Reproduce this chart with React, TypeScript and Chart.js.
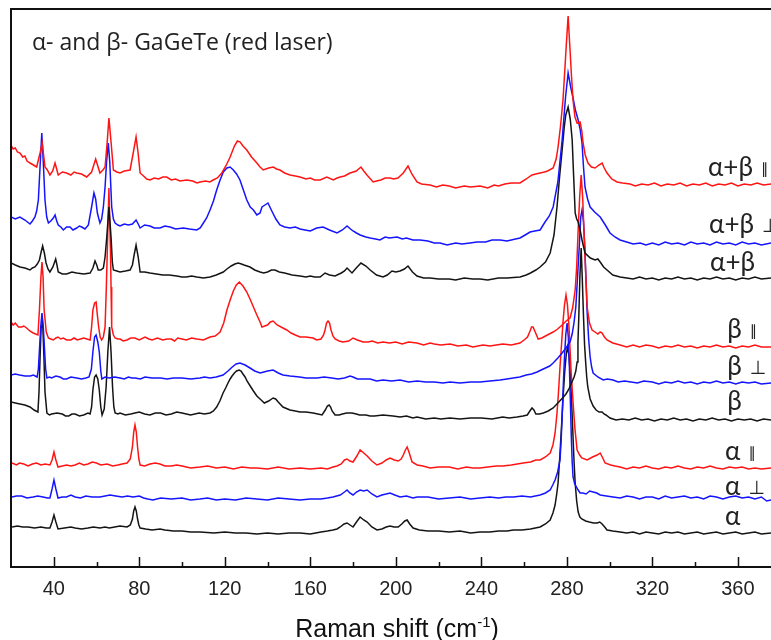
import React, { useEffect, useRef } from "react";
import { Chart, registerables } from "chart.js";
Chart.register(...registerables);

// ---------- data (Raman shift in cm^-1, intensity in arbitrary stacked units) ----------
const xTickValues = [40, 80, 120, 160, 200, 240, 280, 320, 360];
const xMinorTickValues = [60, 100, 140, 180, 220, 260, 300, 340];

const seriesLabels = ["α+β", "α+β", "α+β", "β", "β", "β", "α", "α", "α"];
const seriesSymbols = ["∥", "⊥", "", "∥", "⊥", "", "∥", "⊥", ""];
const seriesColors = ["#ff1414", "#1414ff", "#141414", "#ff1414", "#1414ff", "#141414", "#ff1414", "#1414ff", "#141414"];

const abPar: [number, number][] = [
  [20, 422], [21, 418], [22, 419], [23, 415], [24.2, 414], [25.5, 410], [26.5, 411], [27.5, 406], [28.9, 404],
  [30.5, 402], [32, 400], [33.6, 414], [34.6, 424], [35.9, 400], [37, 397], [38.2, 392], [39.5, 396],
  [40.6, 404], [42.1, 392], [44, 395], [46, 394], [48, 392], [49.5, 395], [50.7, 394], [53, 393], [55.4, 390],
  [57.7, 395], [59.6, 408], [61.6, 394], [63, 397], [64, 400], [65, 425], [65.8, 449], [66.8, 425],
  [67.9, 397], [69.5, 395], [71, 394], [73, 396], [75.7, 397], [77.5, 418], [78.5, 430], [79.4, 415],
  [80.4, 394], [82, 391], [83.5, 388], [85, 387], [87, 389], [89, 388], [91, 390], [92.8, 390], [95, 387],
  [97, 388], [99, 386], [102.2, 387], [105, 386], [107, 384], [108.4, 385], [111, 386], [113, 385],
  [114.6, 387], [116.5, 389], [118.6, 394], [120.5, 401], [122.5, 410], [124.5, 421], [125.9, 426],
  [127.2, 425], [128.5, 421], [130.3, 417], [132.5, 410], [135, 404], [136.5, 400], [138, 397], [140.5, 399],
  [142.7, 400], [144.2, 398], [145.8, 397], [148, 394], [150.5, 392], [153, 391], [155.2, 390], [158, 388],
  [160, 389], [162, 387], [164.6, 387], [167.7, 390], [170.8, 387], [172.5, 389], [174, 390], [176, 391],
  [178.6, 394], [181.5, 396], [183.7, 400], [185, 396], [186.5, 392], [189.4, 385], [191, 386], [193, 387],
  [195, 389], [197.3, 389], [199, 388], [201, 389], [203.5, 394], [205.7, 401], [207.5, 393], [209.9, 385],
  [212, 383], [216, 382], [219, 380], [222, 382], [225, 381], [228, 379], [232, 381], [235, 380], [239.4, 381],
  [243, 379], [246, 382], [248, 381], [251, 383], [254, 384], [258.1, 384], [261, 388], [263.7, 392],
  [265.5, 393], [267.5, 394], [269.5, 395], [271, 396], [273.6, 399], [275, 408], [275.9, 420], [277, 440],
  [278.2, 467], [279, 495], [279.6, 517], [280.6, 551], [281.5, 517], [282.2, 490], [282.9, 467],
  [283.8, 450], [284.8, 444], [286.2, 445], [287, 436], [287.6, 424], [288.6, 412], [289.9, 404],
  [291.5, 400], [293.2, 399], [295, 402], [296.5, 404], [297.5, 399], [298.8, 394], [301, 388], [303.5, 385],
  [306, 384], [309.6, 383], [312, 381], [315, 383], [318, 382], [321, 384], [324, 381], [327, 383], [330, 382],
  [333, 384], [336, 381], [339, 383], [342, 382], [345, 384], [348, 381], [351, 383], [354, 382], [357, 384],
  [360, 381], [363, 383], [366, 382], [369, 384], [372, 382], [375.5, 383],
];

const abPerp: [number, number][] = [
  [20, 350], [22, 348], [24.2, 350], [26.5, 347], [28.9, 343], [30, 346], [31.2, 350], [32, 356], [32.8, 367],
  [33.7, 405], [34.4, 434], [35.1, 405], [35.9, 367], [36.7, 350], [37.5, 344], [38.6, 346], [39.8, 349],
  [40.6, 352], [41.4, 346], [42.1, 342], [43.3, 340], [44.5, 337], [46, 340], [47.6, 340], [49, 337],
  [50.7, 339], [52, 341], [53.1, 340], [54.6, 338], [56.2, 342], [57.7, 360], [58.8, 374], [59.6, 368],
  [60.4, 354], [61.6, 344], [62.4, 348], [63.2, 360], [64, 380], [64.7, 405], [65.5, 424], [66.2, 405],
  [67.1, 360], [67.9, 348], [68.7, 344], [70, 342], [71, 341], [73, 343], [74.9, 342], [76.8, 343],
  [78.5, 347], [79.5, 343], [80.4, 339], [82.5, 342], [85, 341], [87, 339], [89.7, 339], [92, 341],
  [94.4, 340], [97, 338], [100.6, 339], [103.5, 338], [106.9, 337], [108.5, 339], [110, 344], [111.5, 349],
  [113.1, 357], [114.7, 366], [116.2, 377], [117.8, 387], [119.3, 395], [121, 399], [122.5, 400], [124, 397],
  [125.5, 393], [127.1, 387], [128.7, 377], [130.3, 367], [131.9, 360], [133.4, 357], [135, 352], [136.5, 354],
  [137.4, 360], [138.8, 362], [140.2, 364], [142, 356], [143.9, 348], [145.8, 342], [148, 340], [150.5, 339],
  [153, 340], [155.2, 338], [157.5, 337], [160, 336], [163, 339], [166, 340], [169, 337], [172.5, 334],
  [175, 337], [177.2, 341], [178.8, 338], [180, 336], [181.6, 334], [183.3, 332], [186, 330], [188, 329],
  [190.5, 328], [192.6, 327], [195, 330], [197, 329], [200.6, 330], [203, 328], [205, 329], [208, 327],
  [211.3, 327], [215, 326], [218, 324], [220.7, 324], [224, 322], [228, 324], [231, 323], [234.7, 324],
  [238, 325], [242, 325], [245, 327], [248.8, 327], [252, 326], [254, 327], [256, 328], [258.1, 329],
  [260.5, 332], [262.8, 335], [265, 336], [267.5, 337], [269.8, 345], [271.8, 351], [273.6, 360],
  [275.8, 385], [277.8, 427], [279.4, 470], [280.6, 494], [281.8, 480], [282.9, 469], [284, 457],
  [285.3, 447], [286.2, 438], [287.1, 424], [287.8, 400], [288.5, 380], [289.7, 368], [290.9, 360],
  [293, 355], [295.6, 350], [298, 342], [300.2, 334], [302.5, 330], [304.9, 327], [308, 325], [311, 323],
  [314.3, 324], [317, 322], [320, 324], [323, 322], [326, 325], [329, 323], [332, 324], [335, 322], [338, 325],
  [341, 323], [344, 324], [347, 322], [350, 325], [353, 323], [356, 324], [359, 322], [362, 325], [365, 323],
  [368, 324], [371, 322], [375.5, 324],
];

const abUnpol: [number, number][] = [
  [20, 304], [22, 302], [24.2, 300], [26.5, 299], [28.9, 297], [30, 299], [31.2, 300], [32.3, 303],
  [33.3, 307], [34.1, 315], [34.8, 321], [35.6, 314], [36.4, 304], [37.3, 298], [38.2, 295], [39.6, 300],
  [40.9, 308], [41.5, 302], [42.1, 295], [44, 293], [46, 293], [48.5, 295], [50.7, 294], [54, 293], [57, 294],
  [58.3, 299], [59.3, 306], [60.1, 302], [60.8, 297], [62, 297], [63.2, 299], [64, 310], [64.8, 330],
  [65.8, 360], [66.8, 330], [67.4, 305], [67.9, 297], [69.5, 296], [71, 295], [73.5, 296], [75.7, 297],
  [76.8, 302], [77.6, 312], [78.5, 322], [79.5, 310], [80.4, 295], [82.5, 295], [85, 294], [88, 293],
  [91, 292], [94, 292], [97.5, 291], [100, 290], [102, 290], [104.5, 291], [106.9, 290], [110, 289],
  [113.1, 290], [116, 292], [119.3, 295], [121, 298], [123, 301], [124.7, 303], [126.3, 304], [127.8, 303],
  [129, 302], [131.8, 300], [134, 297], [136.5, 295], [138.2, 294], [140, 295], [141.8, 297], [143.5, 297],
  [145.5, 295], [148, 294], [151.5, 292], [155.2, 291], [158, 290], [160, 291], [162, 290], [164.6, 290],
  [166.9, 294], [169, 292], [171.6, 291], [174.5, 294], [176, 296], [177.2, 299], [179.5, 294], [181.5, 299],
  [183.7, 304], [186, 301], [188, 297], [191, 292], [194, 290], [196, 292], [198.2, 296], [200, 295],
  [202, 296], [204, 298], [205.7, 301], [207.8, 295], [209.9, 291], [213, 289], [216, 289], [220, 288],
  [225, 288], [228, 287], [232, 289], [236, 288], [239.4, 288], [243, 287], [248, 289], [252, 289],
  [258.1, 290], [261, 292], [263, 294], [265.5, 297], [267.5, 300], [270, 305], [272.2, 314], [274, 332],
  [275.4, 360], [276.6, 390], [277.8, 417], [278.8, 440], [279.5, 452], [280.6, 460], [281.6, 448],
  [282.5, 427], [283.2, 390], [283.9, 354], [284.6, 348], [285.3, 345], [286.2, 337], [287.1, 327],
  [288.5, 314], [291, 309], [293.2, 307], [294.5, 308], [295.6, 305], [297.2, 300], [298.8, 297],
  [301.5, 292], [304.9, 290], [308, 289], [311, 288], [314, 290], [317, 288], [320, 289], [323, 287],
  [326, 289], [329, 288], [332, 290], [335, 288], [338, 289], [341, 287], [344, 289], [347, 288], [350, 290],
  [353, 288], [356, 289], [359, 287], [362, 289], [365, 288], [368, 290], [371, 288], [375.5, 289],
];

const betaPar: [number, number][] = [
  [20, 245], [21, 242], [22, 244], [23.5, 240], [25, 240], [26, 241], [27.3, 239], [28.8, 236], [30.4, 234],
  [31.5, 233], [32.6, 232], [33.3, 257], [34, 290], [34.5, 305], [35, 290], [35.5, 257], [36.5, 235],
  [37.5, 229], [38.6, 228], [39.8, 227], [41, 229], [42, 230], [43.2, 228], [44.5, 229], [46, 227], [48, 227],
  [49.5, 229], [51, 227], [52.5, 228], [54, 229], [55.5, 228], [57, 227], [57.7, 240], [58.3, 257],
  [59.1, 264], [59.8, 265], [60.4, 252], [61, 240], [61.7, 230], [62.4, 227], [63.2, 230], [64, 240],
  [64.6, 280], [65.1, 320], [65.8, 379], [66.5, 320], [66.8, 280], [67.1, 240], [67.9, 232], [68.7, 229],
  [70, 228], [71, 228], [72.5, 226], [74.2, 227], [76, 229], [78, 229], [80, 227], [82.7, 230], [84.5, 228],
  [86, 227], [88.5, 229], [91, 227], [93, 228], [95, 228], [96.5, 226], [98, 229], [100, 228], [102, 227],
  [104.5, 229], [106.9, 228], [110, 227], [113.1, 230], [115.5, 231], [117.8, 235], [119.5, 244], [121, 257],
  [122.5, 267], [124, 276], [125.4, 282], [126.8, 285], [128.5, 281], [130.3, 275], [131.8, 268],
  [133.4, 260], [135, 252], [136.5, 245], [137.4, 240], [138.7, 241], [140, 242], [141.3, 245], [142.6, 246],
  [144.5, 242], [147.2, 239], [149, 237], [151, 234], [153, 232], [155.2, 230], [158, 230], [161.3, 229],
  [163, 227], [165, 228], [166.2, 232], [166.9, 237], [167.6, 244], [168.3, 246], [169, 244], [169.7, 237],
  [170.6, 231], [171.6, 228], [173.5, 226], [175.3, 225], [178, 226], [180, 229], [182, 227], [184.7, 225],
  [187, 225], [189, 226], [191.5, 224], [194, 225], [197, 224], [200, 225], [203, 223], [206, 225],
  [209.9, 224], [213, 222], [216, 224], [218, 223], [221, 222], [225.4, 223], [229, 221], [233, 222],
  [236, 220], [240.8, 222], [244, 221], [247, 222], [250, 223], [254, 222], [258.1, 224], [260, 227],
  [261.6, 230], [262.8, 236], [263.5, 240], [264.2, 240], [265.4, 234], [266.6, 228], [268.3, 229],
  [270, 231], [271.8, 233], [273.6, 235], [275.7, 238], [277.8, 242], [279.7, 246], [281.5, 249],
  [282.7, 259], [283.9, 277], [284.6, 300], [285.3, 337], [286, 370], [286.7, 392], [287.4, 370],
  [288, 337], [288.8, 295], [289.5, 260], [290.6, 244], [291.8, 237], [293.2, 235], [294.5, 233],
  [295.6, 235], [296.5, 234], [297.6, 230], [298.8, 227], [301.5, 224], [304.9, 222], [308, 220],
  [311, 222], [314, 220], [317, 222], [320, 221], [323, 219], [326, 221], [329, 220], [332, 222], [335, 220],
  [338, 221], [341, 219], [344, 221], [347, 220], [350, 222], [353, 220], [356, 221], [359, 219], [362, 221],
  [365, 220], [368, 222], [371, 220], [375.5, 220],
];

const betaPerp: [number, number][] = [
  [20, 192], [22, 193], [24, 192], [26.5, 191], [29, 191], [30.5, 192], [32.2, 190], [32.8, 198],
  [33.3, 217], [33.9, 240], [34.5, 254], [35.1, 240], [35.7, 217], [36.2, 198], [36.8, 189], [38, 190],
  [39, 189], [41, 191], [42.9, 190], [44.5, 188], [46, 188], [48, 190], [50.7, 189], [53, 188], [55, 189],
  [56.5, 190], [57.6, 198], [58.3, 215], [59.1, 230], [59.8, 232], [60.6, 225], [61.3, 215], [62, 196],
  [62.5, 188], [64, 190], [66, 189], [68.5, 190], [71, 189], [73, 188], [74.9, 190], [76.5, 189], [78, 189],
  [80.5, 188], [82.7, 190], [86, 189], [90, 189], [93, 188], [96, 189], [100, 189], [104, 188], [108.4, 189],
  [110.5, 190], [113.1, 189], [116, 190], [119.2, 192], [121.5, 196], [123.5, 200], [125.3, 203],
  [127.1, 204], [129.5, 202], [131.8, 199], [134, 196], [136.5, 194], [138.3, 195], [140, 196],
  [142.6, 197], [145, 194], [147.2, 192], [150.5, 191], [155, 190], [158, 189], [163.2, 189], [166.5, 190],
  [170, 189], [173, 188], [176, 189], [178.6, 191], [180, 190], [182, 188], [185, 188], [188, 188],
  [191, 186], [194, 187], [198, 186], [202, 187], [206, 185], [210, 186], [214, 185], [218, 185],
  [222, 184], [225.4, 185], [230, 184], [235, 185], [239.4, 185], [244, 186], [248.8, 187], [252, 188],
  [254.9, 189], [258, 190], [261, 192], [263.5, 193], [266.1, 195], [268, 197], [270, 199], [272, 201],
  [273.6, 204], [275.8, 209], [277.8, 214], [279.6, 219], [281.5, 225], [282.5, 233], [283.4, 245],
  [284.2, 260], [285, 290], [285.8, 320], [286.5, 350], [287.1, 357], [287.8, 345], [288.4, 320],
  [289, 285], [289.5, 255], [290.2, 228], [290.9, 210], [291.6, 200], [292.3, 194], [294.5, 190],
  [297, 187], [299, 188], [301.6, 187], [304, 185], [307, 186], [310, 185], [313, 184], [316, 186],
  [320, 185], [323, 183], [326, 185], [329, 184], [332, 186], [335, 184], [338, 185], [341, 183], [344, 185],
  [347, 184], [350, 186], [353, 184], [356, 185], [359, 183], [362, 185], [365, 184], [368, 185], [371, 183],
  [375.5, 184],
];

const betaUnpol: [number, number][] = [
  [20, 165], [22, 164], [24.2, 163], [26.5, 162], [28.9, 160], [30.8, 157], [32.6, 155], [33.1, 175],
  [33.6, 210], [34.1, 240], [34.5, 249], [34.9, 240], [35.4, 210], [35.9, 175], [36.8, 154], [38, 152],
  [39, 153], [41.5, 154], [44, 153], [45.5, 151], [47, 151], [48.5, 153], [50, 153], [52, 151], [54, 152],
  [56, 154], [57, 153], [57.7, 160], [58.3, 177], [59.1, 190], [59.8, 192], [60.6, 188], [61.3, 177],
  [62, 160], [62.6, 152], [63.6, 158], [64.5, 180], [65.3, 215], [66.1, 240], [66.8, 215], [67.5, 180],
  [68.1, 160], [68.7, 154], [70, 153], [71, 154], [73.5, 152], [76, 153], [78, 154], [80, 155], [82.5, 153],
  [85, 152], [87.5, 154], [90, 154], [92.5, 152], [95, 153], [97.5, 155], [100, 154], [104, 152], [108, 154],
  [110.5, 153], [113.1, 154], [114.7, 156], [116.2, 160], [117.7, 166], [119.2, 174], [120.4, 179],
  [121.5, 184], [122.5, 188], [123.4, 191], [124.5, 194], [125.5, 196], [126.7, 197], [127.6, 196],
  [128.5, 193], [129.5, 190], [130.4, 186], [131.9, 181], [133.4, 176], [135, 171], [136.5, 168],
  [137.5, 166], [138.5, 164], [140.5, 166], [142.6, 169], [143.8, 168], [145, 165], [147.2, 160],
  [150.5, 157], [153, 156], [155.2, 155], [158, 155], [161.3, 154], [163.5, 153], [165.5, 152], [167, 157],
  [168, 161], [168.8, 162], [169.5, 160], [170.2, 156], [171.6, 152], [173.5, 152], [175, 153], [177, 154],
  [179.5, 154], [181.5, 153], [183, 152], [186, 152], [188, 151], [190, 151], [194, 152], [198.7, 151],
  [202, 150], [205, 151], [208, 149], [209.9, 150], [214, 148], [218, 149], [221, 148], [225.4, 149],
  [230, 148], [235, 149], [240, 149], [245, 148], [250, 150], [253, 149], [256.7, 150], [259.5, 151],
  [261.5, 152], [262.7, 156], [263.7, 159], [264.6, 157], [265.5, 153], [267.2, 153], [269, 154],
  [271.3, 156], [273.6, 159], [275.8, 164], [278, 169], [279.6, 173], [281, 178], [282.2, 184],
  [283.4, 190], [284.2, 196], [284.8, 205], [285.2, 225], [285.6, 250], [286.1, 290], [286.7, 319],
  [287.2, 290], [287.8, 250], [288.3, 222], [288.8, 205], [289.3, 190], [289.8, 180], [290.9, 168],
  [292.3, 161], [293.7, 157], [295.1, 155], [296.5, 155], [297.4, 153], [298.3, 152], [300.2, 149],
  [303, 147], [306, 148], [309, 147], [312, 149], [315, 147], [318, 148], [321, 146], [324, 148], [327, 147],
  [330, 149], [333, 147], [336, 148], [339, 146], [342, 148], [345, 147], [348, 149], [351, 147], [354, 148],
  [357, 146], [360, 148], [363, 147], [366, 148], [369, 146], [372, 148], [375.5, 147],
];

const alphaPar: [number, number][] = [
  [20.5, 104], [22.5, 102], [24, 104], [26, 103], [28, 101], [30, 103], [32, 104], [34, 102], [36, 103],
  [38.2, 102], [39.2, 107], [40.1, 115], [41, 107], [42, 100], [44, 101], [46, 102], [48, 101], [50, 102],
  [52, 104], [54, 102], [56, 103], [58, 105], [60, 104], [62, 102], [65, 103], [67.5, 101], [70, 102],
  [72, 103], [74.3, 104], [75.8, 108], [76.8, 120], [77.4, 135], [78, 142], [78.6, 135], [79.2, 120],
  [79.8, 108], [80.4, 102], [82.5, 101], [85, 103], [87.5, 104], [89.7, 103], [92, 101], [95, 101],
  [97.5, 102], [100, 101], [104, 99], [108.4, 100], [112, 101], [116, 99], [120, 100], [124, 98], [128, 100],
  [132, 99], [135, 99], [140, 98], [145, 100], [150, 98], [155.2, 99], [160, 98], [165, 99], [168, 98],
  [170.6, 100], [172.5, 101], [174.5, 103], [176, 107], [177.2, 108], [178.5, 106], [180, 105],
  [181.8, 111], [183.3, 117], [185, 114], [186.6, 111], [188.8, 106], [191.2, 102], [193.5, 104],
  [195.5, 107], [197.3, 109], [199.3, 107], [201.1, 106], [202.5, 108], [203.5, 112], [204.5, 117],
  [205.3, 120], [206.3, 114], [207.6, 105], [210, 102], [212.7, 101], [216, 99], [220, 100], [225, 100],
  [229, 98], [233, 100], [236, 99], [239.4, 99], [243, 100], [247, 101], [250, 101], [254, 102],
  [259.6, 104], [263, 105], [265.5, 107], [267.5, 107], [270, 110], [272.2, 114], [273.5, 122],
  [274.5, 134], [275.4, 154], [276.1, 175], [276.8, 200], [277.5, 222], [278.2, 245], [278.9, 262],
  [279.6, 272], [280.3, 262], [281, 240], [281.5, 218], [282, 195], [282.9, 165], [283.8, 138],
  [284.8, 117], [286, 112], [287, 109], [289.5, 107], [292, 110], [294.2, 112], [295.6, 114], [296.8, 109],
  [297.9, 104], [300.5, 102], [302.5, 101], [304.9, 100], [308, 98], [311, 100], [314, 99], [317, 101],
  [320, 99], [323, 98], [326, 100], [329, 99], [332, 101], [335, 99], [338, 98], [341, 100], [344, 99],
  [347, 101], [350, 99], [353, 98], [356, 100], [359, 99], [362, 100], [365, 98], [368, 99], [371, 98],
  [375.5, 99],
];

const alphaPerp: [number, number][] = [
  [20.5, 70], [22.5, 71], [25, 71], [27.5, 69], [30.3, 70], [32.5, 71], [35, 70], [37, 69], [38.2, 69],
  [39.2, 78], [40.1, 87], [41, 78], [42, 69], [44, 70], [46, 70], [48, 72], [50, 70], [52.5, 69], [55, 71],
  [58, 70], [61.6, 70], [64, 71], [66.3, 72], [69, 71], [72, 70], [74.5, 71], [77.1, 70], [80, 71], [82, 69],
  [84, 68], [86.4, 67], [90, 69], [95, 68], [100, 69], [104, 67], [108.4, 68], [112, 69], [116, 67],
  [120, 68], [125, 67], [130, 69], [135, 68], [140, 67], [145, 69], [150, 68], [155.2, 67], [160, 68],
  [165, 68], [168, 69], [170.6, 70], [174, 72], [176, 75], [177.2, 77], [178.5, 74], [180, 72],
  [181.6, 75], [183.3, 77], [185, 76], [186.6, 77], [188.8, 73], [191.2, 70], [193.5, 72], [195.5, 73],
  [197.3, 74], [199.5, 72], [202, 70], [205, 71], [208, 69], [210, 70], [215, 70], [220, 68], [225, 69],
  [230, 70], [235, 68], [239.4, 69], [244, 70], [248, 69], [251.5, 70], [255, 70], [259, 71], [263, 70],
  [267.5, 72], [270, 74], [272.2, 77], [273.4, 82], [274.5, 87], [275.7, 95], [276.8, 107], [277.3, 125],
  [277.8, 150], [278.4, 185], [278.9, 210], [279.5, 232], [280.1, 244], [280.7, 230], [281.2, 200],
  [281.7, 162], [282.1, 130], [282.5, 105], [282.9, 90], [283.7, 83], [284.5, 80], [285.3, 77],
  [286.2, 74], [287.5, 74], [289, 73], [290.7, 76], [292.3, 75], [294, 74], [295.6, 72], [298.5, 71],
  [301.6, 70], [305, 69], [308, 71], [311, 70], [314, 68], [317, 70], [320, 70], [323, 68], [326, 71],
  [329, 69], [332, 70], [335, 71], [338, 69], [341, 70], [344, 68], [347, 71], [350, 70], [353, 68],
  [356, 70], [359, 71], [362, 69], [365, 70], [368, 68], [371, 70], [373.5, 66], [375.5, 67],
];

const alphaUnpol: [number, number][] = [
  [20.5, 40], [23, 41], [25.5, 40], [28, 40], [31, 39], [34, 40], [36.5, 39], [38.2, 39], [39.2, 45],
  [40.1, 52], [41, 45], [42, 38], [45, 39], [48, 40], [50, 39], [53, 38], [56, 39], [58.5, 40], [61.6, 39],
  [64, 40], [66, 39], [68.5, 40], [71, 41], [74.3, 40], [75.8, 42], [76.8, 48], [77.4, 56], [78, 60],
  [78.6, 56], [79.2, 48], [79.8, 42], [80.4, 39], [83, 38], [86, 37], [89.7, 38], [92, 37], [96, 36],
  [100, 36], [104, 35], [108.4, 35], [115, 34], [120, 35], [125, 34], [130, 34], [135, 33], [140, 34],
  [145, 33], [150, 34], [155.2, 34], [160, 33], [165, 35], [168, 36], [170.6, 37], [172.5, 38], [174, 40],
  [175.8, 43], [177.2, 44], [178.6, 42], [180, 40], [181.6, 45], [183.3, 50], [185, 47], [186.6, 45],
  [188.8, 40], [191.2, 37], [193.5, 38], [195.5, 40], [197.3, 41], [199.2, 40], [201.1, 40], [202.8, 43],
  [204.2, 46], [205.3, 47], [206.5, 43], [208.1, 39], [211, 37], [215, 36], [220, 36], [225, 35], [230, 36],
  [235, 34], [239.4, 35], [244, 35], [248, 36], [252, 36], [255, 37], [259, 37], [263, 38], [267.5, 40],
  [270, 43], [272.2, 47], [273.5, 54], [274.5, 62], [275.2, 72], [275.9, 84], [276.7, 110], [277.5, 140],
  [278.2, 168], [279, 195], [279.7, 212], [280.3, 220], [281, 212], [281.7, 190], [282.3, 162],
  [282.9, 130], [283.4, 104], [283.9, 84], [284.6, 66], [285.3, 55], [286.1, 50], [287, 48], [288.8, 46],
  [290.5, 45], [292.5, 44], [294.2, 44], [295.4, 45], [296.5, 43], [297.7, 40], [298.8, 37], [301.5, 36],
  [304.9, 35], [308, 34], [311, 35], [314, 33], [317, 35], [320, 34], [323, 33], [326, 35], [329, 34],
  [332, 35], [335, 33], [338, 34], [341, 35], [344, 33], [347, 34], [350, 35], [353, 33], [356, 34],
  [359, 35], [362, 33], [365, 34], [368, 35], [371, 33], [375.5, 34],
];

const seriesData = [abPar, abPerp, abUnpol, betaPar, betaPerp, betaUnpol, alphaPar, alphaPerp, alphaUnpol];
// label anchor: [Raman shift, intensity] for the text on the right of each trace
const labelAnchorX = [346, 346.5, 347, 355, 355, 355, 354, 354, 354];
const labelAnchorY = [399, 342, 304, 237, 200, 165, 115, 80, 50];

const X_MIN = 20;
const X_MAX = 375.5;
const Y_MIN = 0;
const Y_MAX = 558;

const decorPlugin = {
  id: "decor",
  afterDraw(chart: any) {
    const { ctx, chartArea } = chart;
    const xs = chart.scales.x;
    const ys = chart.scales.y;
    const { left, top, right, bottom } = chartArea;
    ctx.save();
    ctx.strokeStyle = "#111";
    ctx.lineWidth = 2;
    ctx.beginPath();
    ctx.moveTo(left, bottom);
    ctx.lineTo(left, top);
    ctx.lineTo(right + 2, top);
    ctx.moveTo(left - 1, bottom);
    ctx.lineTo(right + 2, bottom);
    ctx.stroke();
    ctx.lineWidth = 1.5;
    ctx.beginPath();
    xTickValues.forEach((v) => {
      const px = Math.round(xs.getPixelForValue(v)) + 0.5;
      ctx.moveTo(px, bottom);
      ctx.lineTo(px, bottom - 10);
    });
    xMinorTickValues.forEach((v) => {
      const px = Math.round(xs.getPixelForValue(v)) + 0.5;
      ctx.moveTo(px, bottom);
      ctx.lineTo(px, bottom - 5);
    });
    ctx.stroke();

    // title inside plot
    ctx.fillStyle = "#222";
    ctx.textBaseline = "middle";
    ctx.textAlign = "left";
    ctx.font = "23px 'Open Sans', Lato, sans-serif";
    ctx.fillText("α- and β- GaGeTe (red laser)", left + 21, top + 34);

    // trace labels
    seriesLabels.forEach((lab, i) => {
      const px = xs.getPixelForValue(labelAnchorX[i]);
      const py = ys.getPixelForValue(labelAnchorY[i]);
      ctx.font = "26px Lato, 'Open Sans', sans-serif";
      ctx.fillStyle = "#222";
      ctx.fillText(lab, px, py);
      const w = ctx.measureText(lab).width;
      const sym = seriesSymbols[i];
      if (sym) {
        ctx.font = sym === "∥" ? "15px 'DejaVu Sans', sans-serif" : "19px 'DejaVu Sans', sans-serif";
        ctx.fillText(sym, px + w + 8, py + 2);
      }
    });

    // axis title with superscript
    const mainText = "Raman shift (cm";
    const supText = "-1";
    const endText = ")";
    ctx.fillStyle = "#111";
    ctx.textBaseline = "alphabetic";
    ctx.font = "25px 'Liberation Sans', Arial, sans-serif";
    const w1 = ctx.measureText(mainText).width;
    const w3 = ctx.measureText(endText).width;
    ctx.font = "15px 'Liberation Sans', Arial, sans-serif";
    const w2 = ctx.measureText(supText).width;
    const total = w1 + w2 + w3;
    const cx = 397;
    const baseY = 637;
    const x0 = cx - total / 2;
    ctx.font = "25px 'Liberation Sans', Arial, sans-serif";
    ctx.fillText(mainText, x0, baseY);
    ctx.font = "15px 'Liberation Sans', Arial, sans-serif";
    ctx.fillText(supText, x0 + w1, baseY - 10);
    ctx.font = "25px 'Liberation Sans', Arial, sans-serif";
    ctx.fillText(endText, x0 + w1 + w2, baseY);
    ctx.restore();
  },
};

export default function App() {
  const canvasRef = useRef<HTMLCanvasElement | null>(null);
  useEffect(() => {
    document.body.style.margin = "0";
    const canvas = canvasRef.current;
    if (!canvas) return;
    const datasets = seriesData.map((d, i) => ({
      label: seriesLabels[i] + (seriesSymbols[i] ? " " + seriesSymbols[i] : ""),
      data: d.map(([x, y]) => ({ x, y })),
      borderColor: seriesColors[i],
      borderWidth: 1.5,
      pointRadius: 0,
      fill: false,
      tension: 0,
    }));
    const chart = new Chart(canvas, {
      type: "line",
      data: { datasets },
      options: {
        animation: false,
        responsive: false,
        devicePixelRatio: 1,
        layout: { padding: { left: 11, top: 9, right: 0, bottom: 0 } },
        plugins: { legend: { display: false }, tooltip: { enabled: false }, title: { display: false } },
        scales: {
          x: {
            type: "linear",
            min: X_MIN,
            max: X_MAX,
            grid: { display: false, drawTicks: false },
            border: { display: false },
            afterBuildTicks: (scale: any) => {
              scale.ticks = xTickValues.map((v) => ({ value: v }));
            },
            afterFit: (scale: any) => {
              scale.height = 73;
            },
            ticks: {
              padding: 10,
              maxRotation: 0,
              autoSkip: false,
              color: "#222",
              font: { family: "'Liberation Sans', Arial, sans-serif", size: 20 },
            },
          },
          y: { display: false, min: Y_MIN, max: Y_MAX },
        },
      },
      plugins: [decorPlugin],
    });
    return () => chart.destroy();
  }, []);
  return (
    <div style={{ width: 771, height: 640, background: "#fff" }}>
      <canvas ref={canvasRef} width={771} height={640} style={{ display: "block" }} />
    </div>
  );
}
